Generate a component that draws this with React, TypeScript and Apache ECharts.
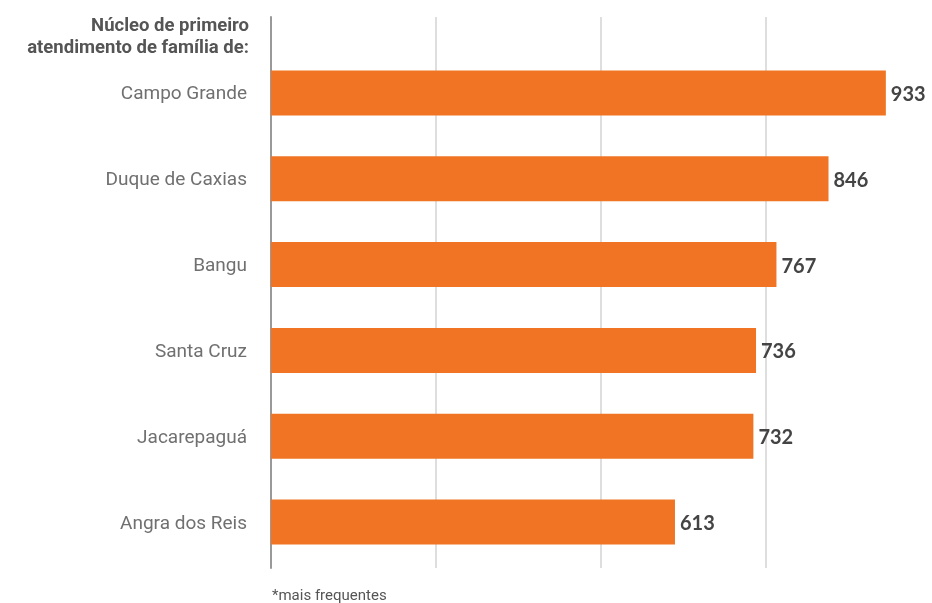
import React, { useEffect, useRef } from "react";
import * as echarts from "echarts";

const categories = ["Campo Grande", "Duque de Caxias", "Bangu", "Santa Cruz", "Jacarepaguá", "Angra dos Reis"];
const values = [933, 846, 767, 736, 732, 613];
const headerLines = ["Núcleo de primeiro", "atendimento de família de:"];
const footnote = "*mais frequentes";

export default function App() {
  const ref = useRef<HTMLDivElement>(null);
  useEffect(() => {
    if (!ref.current) return;
    const chart = echarts.init(ref.current, null, { renderer: "svg" });
    chart.setOption({
      animation: false,
      grid: [
        { left: 271, right: 2, top: 17, bottom: 35 },
        { left: 271, right: 2, top: 50, bottom: 38 },
      ],
      xAxis: [
        {
          gridIndex: 0,
          type: "value",
          min: 0,
          max: 1000,
          interval: 250,
          axisLine: { show: false },
          axisTick: { show: false },
          axisLabel: { show: false },
          splitLine: { show: true, showMaxLine: false, showMinLine: false, lineStyle: { color: "#dedede", width: 2 } },
        },
        {
          gridIndex: 1,
          type: "value",
          min: 0,
          max: 1000,
          show: false,
          splitLine: { show: false },
        },
      ],
      yAxis: [
        {
          gridIndex: 0,
          type: "category",
          data: [""],
          axisLine: { show: true, lineStyle: { color: "#999999", width: 2 } },
          axisTick: { show: false },
          axisLabel: { show: false },
        },
        {
          gridIndex: 1,
          type: "category",
          data: categories,
          inverse: true,
          axisLine: { show: false },
          axisTick: { show: false },
          axisLabel: {
            margin: 24,
            fontFamily: "Roboto",
            fontSize: 19,
            color: "#707070",
            padding: [0, 0, 5, 0],
          },
        },
      ],
      series: [
        {
          type: "bar",
          xAxisIndex: 1,
          yAxisIndex: 1,
          data: values,
          barWidth: 45,
          itemStyle: { color: "#F07423" },
          label: {
            show: true,
            position: "right",
            distance: 5,
            fontFamily: "Lato",
            fontWeight: 700,
            fontSize: 20,
            color: "#444444",
          },
        },
      ],
      graphic: [
        {
          type: "text",
          x: 249,
          y: 25,
          style: {
            text: headerLines[0],
            align: "right",
            verticalAlign: "middle",
            fontFamily: "Roboto",
            fontWeight: 700,
            fontSize: 18.5,
            fill: "#555555",
          },
        },
        {
          type: "text",
          x: 249,
          y: 47,
          style: {
            text: headerLines[1],
            align: "right",
            verticalAlign: "middle",
            fontFamily: "Roboto",
            fontWeight: 700,
            fontSize: 18.5,
            fill: "#555555",
          },
        },
        {
          type: "text",
          x: 272,
          y: 587,
          style: { text: footnote, fontFamily: "Roboto", fontSize: 15, fill: "#555555" },
        },
      ],
    });
    return () => chart.dispose();
  }, []);
  return <div ref={ref} style={{ position: "fixed", left: 0, top: 0, width: 932, height: 603 }} />;
}
